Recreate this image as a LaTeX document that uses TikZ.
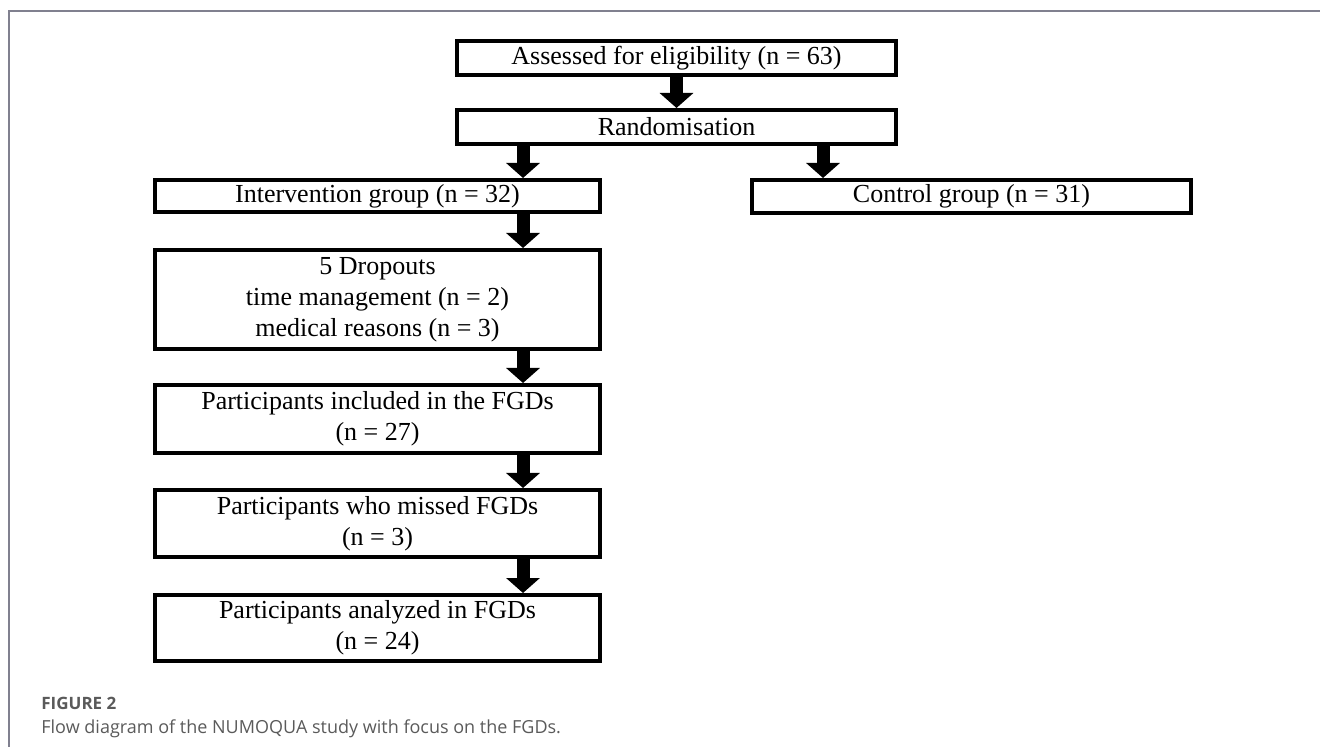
\documentclass[tikz,border=0pt]{standalone}
\usepackage{fontspec}
\setmainfont{Liberation Serif}
\newfontfamily\capfont{Open Sans}
\usepackage{xcolor}
\usepackage{tikz}
\usetikzlibrary{arrows.meta}
\definecolor{framegray}{HTML}{80808F}
\definecolor{capgray}{HTML}{5A5A5A}

\begin{document}
\begin{tikzpicture}[x=0.5pt, y=-0.5pt,
    box/.style={draw, line width=1.8pt, inner sep=0pt, align=center, font=\fontsize{13}{15.5}\selectfont},
    wide/.style={minimum width=219.7pt},
    left col/.style={minimum width=222.7pt},
    flow/.style={line width=6.5pt, -{Triangle[width=16.5pt, length=7.5pt]}},
    caption/.style={anchor=base west, inner sep=0pt, text=capgray}]
    \useasboundingbox (0,0) rectangle (1320,747);
    \draw[framegray, line width=1pt] (9,747) -- (9,11) -- (1320,11);

    \node[box, wide, minimum height=17.2pt] (assess) at (676.5,58) {Assessed for eligibility (n = 63)};
    \node[box, wide, minimum height=17.2pt] (rand) at (676.5,127) {Randomisation};
    \node[box, left col, minimum height=16.2pt] (interv) at (377.5,196) {Intervention group (n = 32)};
    \node[box, wide, minimum height=16.7pt] (control) at (971.5,196.5) {Control group (n = 31)};
    \node[box, left col, minimum height=49.7pt] (drop) at (377.5,299.5) {5 Dropouts\\time management (n = 2)\\medical reasons (n = 3)};
    \node[box, left col, minimum height=34.2pt] (incl) at (377.5,419) {Participants included in the FGDs\\(n = 27)};
    \node[box, left col, minimum height=33.7pt] (missed) at (377.5,523.5) {Participants who missed FGDs\\(n = 3)};
    \node[box, left col, minimum height=33.2pt] (analyzed) at (377.5,628) {Participants analyzed in FGDs\\(n = 24)};

    \coordinate (lcol) at (523,0);
    \coordinate (rcol) at (823,0);
    \draw[flow] (assess.south) -- (rand.north);
    \draw[flow] (rand.south -| lcol) -- (interv.north -| lcol);
    \draw[flow] (rand.south -| rcol) -- (control.north -| rcol);
    \draw[flow] (interv.south -| lcol) -- (drop.north -| lcol);
    \draw[flow] (drop.south -| lcol) -- (incl.north -| lcol);
    \draw[flow] (incl.south -| lcol) -- (missed.north -| lcol);
    \draw[flow] (missed.south -| lcol) -- (analyzed.north -| lcol);

    \node[caption, font=\capfont\bfseries\fontsize{8.5}{10}\selectfont] (figlabel) at (41,709) {FIGURE 2};
    \node[caption, font=\capfont\fontsize{9}{11}\selectfont] (figtext) at (41,733) {Flow diagram of the NUMOQUA study with focus on the FGDs.};
\end{tikzpicture}
\end{document}
